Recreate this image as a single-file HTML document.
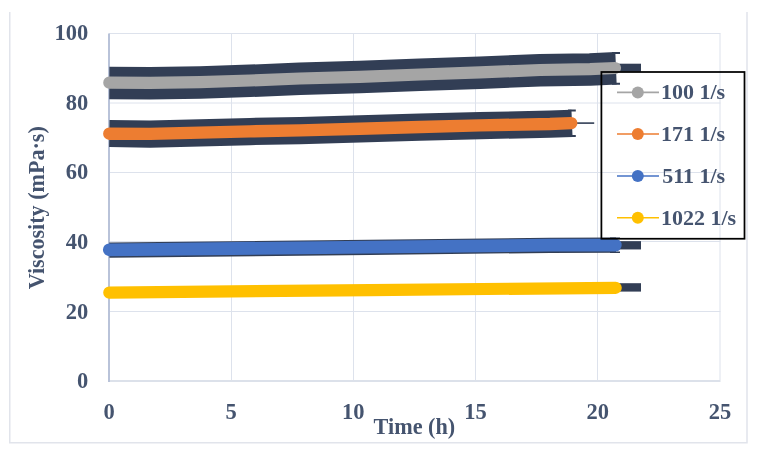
<!DOCTYPE html>
<html><head><meta charset="utf-8">
<style>
html,body{margin:0;padding:0;background:#fff;width:758px;height:455px;overflow:hidden}
svg{position:absolute;left:0;top:0;will-change:transform}
text{font-family:"Liberation Serif",serif;font-weight:bold;fill:#45546f}
</style></head><body>
<svg width="758" height="455" viewBox="0 0 758 455">
<!-- outer frame -->
<path d="M9.75 12 V442.75 H747 V12" fill="none" stroke="#e1e4eb" stroke-width="1.5"/>
<!-- gridlines -->
<g stroke="#dde2ec" stroke-width="1" fill="none">
<path d="M109 33.5 H720.5 M109 103 H720.5 M109 172.5 H720.5 M109 241.5 H720.5 M109 311.5 H720.5"/>
<path d="M231.5 33.5 V380 M353.5 33.5 V380 M475.5 33.5 V380 M597.5 33.5 V380 M720 33.5 V380"/>
</g>
<!-- axes -->
<path d="M108 381 H720.5" stroke="#dce1ea" stroke-width="2"/>
<path d="M109 33.5 V382" stroke="#b9c3d9" stroke-width="2"/>

<!-- series: grey 100 -->
<g fill="none" stroke-linejoin="round">
<path d="M109.3 83.00 L150 83.15 L200 82.40 L250 80.80 L300 78.80 L360 77.10 L420 74.80 L480 72.70 L540 70.30 L590 69.40 L616 68.30" stroke="#323e55" stroke-width="32.5" stroke-linecap="butt"/>
<path d="M616 67.7 H641" stroke="#323e55" stroke-width="8"/>
<path d="M612 53 H620 M612 83.8 H620" stroke="#323e55" stroke-width="2"/>
<path d="M109.3 82.70 L150 82.85 L200 82.10 L250 80.50 L300 78.50 L360 76.80 L420 74.50 L480 72.40 L540 70.00 L590 69.10 L615 68.00" stroke="#a5a5a5" stroke-width="12.2" stroke-linecap="round"/>

<!-- orange 171 -->
<path d="M109.3 133.50 L150 134.10 L200 132.85 L250 131.55 L300 130.55 L360 128.90 L420 127.20 L480 125.60 L550 124.20 L572 123.30" stroke="#323e55" stroke-width="27.2" stroke-linecap="butt"/>
<path d="M568 110.4 H575.8 M568 136 H575.8" stroke="#323e55" stroke-width="2"/>
<path d="M577 123.1 H594.2" stroke="#323e55" stroke-width="1.6"/>
<path d="M109.3 133.70 L150 133.90 L200 132.65 L250 131.35 L300 130.35 L360 128.70 L420 127.00 L480 125.40 L550 124.00 L571.2 123.10" stroke="#ed7d31" stroke-width="12.4" stroke-linecap="round"/>

<!-- blue 511 -->
<path d="M109.3 250.10 L160 249.60 L370 247.35 L550 245.30 L616 245.20" stroke="#323e55" stroke-width="15.2" stroke-linecap="butt"/>
<path d="M616 245.3 H641" stroke="#323e55" stroke-width="8.3"/>
<path d="M610 238.3 H620 M610 252.2 H620" stroke="#323e55" stroke-width="1.4"/>
<path d="M109.3 249.80 L160 249.30 L370 247.05 L550 245.10 L615.3 245.10" stroke="#4472c4" stroke-width="12.8" stroke-linecap="round"/>

<!-- yellow 1022 -->
<path d="M616 287.4 H641" stroke="#323e55" stroke-width="8.4"/>
<path d="M109.3 292.60 L370 290.05 L615.7 287.80" stroke="#ffc000" stroke-width="12.2" stroke-linecap="round"/>
</g>

<!-- y tick labels -->
<g font-size="22.5" text-anchor="end">
<text x="88.3" y="40.1">100</text>
<text x="88.3" y="109.7">80</text>
<text x="88.3" y="179.3">60</text>
<text x="88.3" y="248.9">40</text>
<text x="88.3" y="318.5">20</text>
<text x="88.3" y="388.1">0</text>
</g>
<!-- x tick labels -->
<g font-size="22.5" text-anchor="middle">
<text x="109" y="419">0</text>
<text x="231" y="419">5</text>
<text x="353.3" y="419">10</text>
<text x="475.5" y="419">15</text>
<text x="597.8" y="419">20</text>
<text x="720" y="419">25</text>
</g>
<!-- axis titles -->
<text x="414.4" y="434" font-size="22.2" text-anchor="middle">Time (h)</text>
<text transform="translate(43.8 207.7) rotate(-90)" font-size="22.1" text-anchor="middle">Viscosity (mPa·s)</text>

<!-- legend -->
<rect x="601.4" y="72" width="143.1" height="166.75" fill="none" stroke="#000" stroke-width="1.75"/>
<g stroke-width="1.6">
<path d="M617 92.4 H659" stroke="#a5a5a5"/><circle cx="637.8" cy="92.4" r="6" fill="#a5a5a5"/>
<path d="M617 134 H659" stroke="#ed7d31"/><circle cx="637.8" cy="134" r="6" fill="#ed7d31"/>
<path d="M617 176 H659" stroke="#4472c4"/><circle cx="637.8" cy="176" r="6" fill="#4472c4"/>
<path d="M617 217.8 H659" stroke="#ffc000"/><circle cx="637.8" cy="217.8" r="6" fill="#ffc000"/>
</g>
<g font-size="22">
<text x="661" y="99.3">100 1/s</text>
<text x="661" y="141.4">171 1/s</text>
<text x="662.2" y="183.1">511 1/s</text>
<text x="661" y="225.3">1022 1/s</text>
</g>
</svg>
</body></html>
